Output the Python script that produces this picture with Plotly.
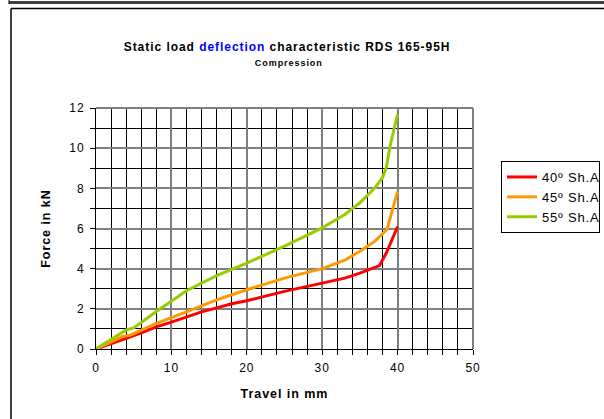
import plotly.graph_objects as go

# ---- data ----
red_x = [0, 2, 4, 6, 8, 10, 12, 14, 16, 18, 20, 25, 30, 33, 35, 37.6, 38.5, 39.3, 40]
red_y = [0, 0.25, 0.53, 0.8, 1.1, 1.34, 1.6, 1.85, 2.05, 2.25, 2.4, 2.87, 3.28, 3.53, 3.78, 4.15, 4.78, 5.45, 6.1]

orange_x = [0, 3.5, 4.5, 8, 12, 16, 18, 20, 25, 30, 33, 35, 37, 38.6, 40]
orange_y = [0, 0.62, 0.68, 1.28, 1.85, 2.45, 2.7, 2.95, 3.53, 4.0, 4.42, 4.87, 5.37, 5.95, 7.85]

green_x = [0, 4, 5, 8, 12, 16, 20, 25, 30, 33, 35, 37, 38, 38.5, 39, 39.5, 40]
green_y = [0, 0.95, 1.05, 1.87, 2.9, 3.65, 4.28, 5.12, 6.03, 6.7, 7.28, 8.03, 8.53, 9.03, 10.1, 10.9, 11.7]

series_names = ["40º Sh.A", "45º Sh.A", "55º Sh.A"]
series_colors = ["#FF0000", "#FF9900", "#99CC00"]

title_text = "Static load <span style='color:#0000FF'>deflection</span> characteristic RDS 165-95H"
subtitle_text = "Compression"
x_title = "Travel in mm"
y_title = "Force in kN"

# ---- layout geometry (pixels) ----
W, H = 604, 419
L, R, T, B = 96, 131, 108, 70
PW, PH = W - L - R, H - T - B

def px_x(p):
    return (p - L) / PW

def px_y(p):
    return (H - B - p) / PH

fig = go.Figure()
for xs, ys, name, col in zip([red_x, orange_x, green_x], [red_y, orange_y, green_y],
                             series_names, series_colors):
    fig.add_trace(go.Scatter(x=xs, y=ys, mode="lines", name=name,
                             line=dict(color=col, width=3)))

font = "Liberation Sans, Arial, sans-serif"

fig.update_layout(
    width=W, height=H,
    margin=dict(l=L, r=R, t=T, b=B, autoexpand=False),
    paper_bgcolor="white", plot_bgcolor="white",
    font=dict(family=font, size=12, color="black"),
    showlegend=True,
    legend=dict(x=px_x(501), y=px_y(161), xanchor="left", yanchor="top",
                bordercolor="black", borderwidth=1, bgcolor="white",
                font=dict(size=13, family=font), tracegroupgap=0),
    xaxis=dict(range=[0, 50], dtick=10, tick0=0,
               showgrid=True, gridcolor="#808080", gridwidth=2,
               showline=True, linecolor="black", linewidth=1,
               ticks="outside", ticklen=5, tickcolor="black",
               ticklabelstandoff=3,
               minor=dict(dtick=2, showgrid=True, gridcolor="black", gridwidth=1,
                          ticks="outside", ticklen=5, tickcolor="black"),
               zeroline=False,
               title=dict(text="<b>" + x_title + "</b>", font=dict(size=12.5), standoff=14),
               tickfont=dict(size=12)),
    yaxis=dict(range=[0, 12], dtick=2, tick0=0,
               showgrid=True, gridcolor="#808080", gridwidth=2,
               showline=True, linecolor="black", linewidth=1,
               ticks="outside", ticklen=5, tickcolor="black",
               ticklabelstandoff=3,
               minor=dict(dtick=1, showgrid=True, gridcolor="black", gridwidth=1,
                          ticks="outside", ticklen=5, tickcolor="black"),
               zeroline=False,
               title=dict(text="<b>" + y_title + "</b>", font=dict(size=12.5), standoff=17),
               tickfont=dict(size=12)),
    annotations=[
        dict(text="<b>" + title_text + "</b>", xref="paper", yref="paper",
             x=px_x(287), y=px_y(47), xanchor="center", yanchor="middle",
             showarrow=False, font=dict(size=12)),
        dict(text="<b>" + subtitle_text + "</b>", xref="paper", yref="paper",
             x=px_x(289), y=px_y(63), xanchor="center", yanchor="middle",
             showarrow=False, font=dict(size=9)),
    ],
    shapes=[
        # plot area frame (gray top/right)
        dict(type="line", xref="paper", yref="paper", x0=0, x1=1, y0=1, y1=1,
             line=dict(color="#808080", width=2)),
        dict(type="line", xref="paper", yref="paper", x0=1, x1=1, y0=0, y1=1,
             line=dict(color="#808080", width=2)),
        # outer frames
        dict(type="line", xref="paper", yref="paper", x0=px_x(9), x1=px_x(604),
             y0=px_y(2.5), y1=px_y(2.5), line=dict(color="#404040", width=3)),
        dict(type="line", xref="paper", yref="paper", x0=px_x(9), x1=px_x(9),
             y0=px_y(0), y1=px_y(4), line=dict(color="black", width=1)),
        dict(type="line", xref="paper", yref="paper", x0=px_x(11), x1=px_x(604),
             y0=px_y(8.5), y1=px_y(8.5), line=dict(color="black", width=1.5)),
        dict(type="line", xref="paper", yref="paper", x0=px_x(11), x1=px_x(11),
             y0=px_y(8.5), y1=px_y(419), line=dict(color="black", width=1.5)),
    ],
)

post = """
document.documentElement.style.overflow = 'hidden';
document.body.style.margin = '0px';
document.body.style.overflow = 'hidden';
var st = document.createElement('style');
st.textContent = 'html, body { margin: 0 !important; overflow: hidden !important; } .modebar-container { display: none !important; } .main-svg text { letter-spacing: 0.95px; } .legendtext { letter-spacing: 0.8px !important; }';
document.head.appendChild(st);
"""

fig.write_html("out.html", post_script=post)
